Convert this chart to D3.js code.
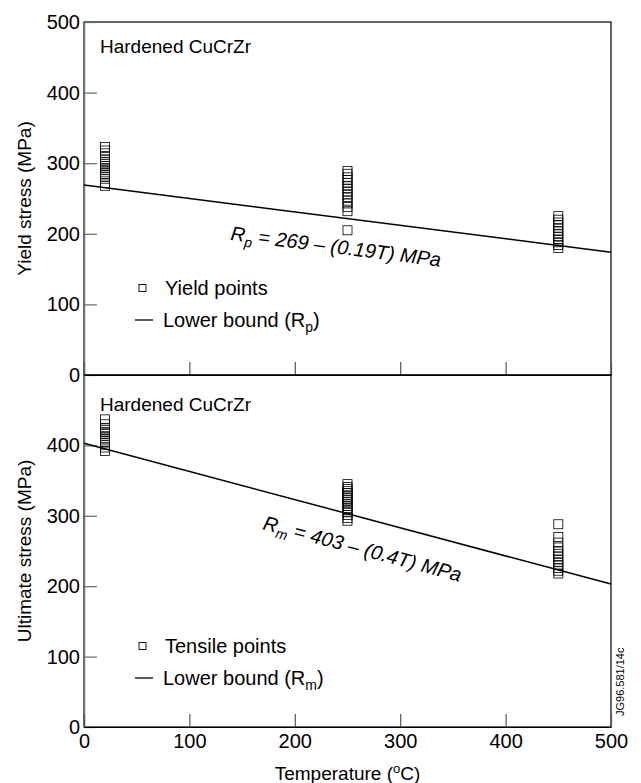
<html>
<head>
<script src="https://d3js.org/d3.v7.min.js"></script>
<style>
  body { margin: 0; background: #fff; }
  text { font-family: "Liberation Sans", Arial, sans-serif; }
</style>
</head>
<body>
<svg id="chart" width="641" height="783"></svg>
<script>
// temperatures of the three test groups
var temps = [20, 250, 450];

// yield stress points (MPa) at each temperature
var yield20 = [268, 272, 278, 281, 284, 287, 290, 293, 296, 299, 302, 305, 309, 314, 318, 323];
var yield250 = [205, 232, 238, 243, 247, 252, 256, 260, 264, 268, 272, 276, 280, 285, 289];
var yield450 = [180, 184, 188, 192, 196, 200, 204, 208, 212, 216, 220, 225];

// tensile (ultimate) stress points (MPa)
var tensile20 = [392, 397, 401, 404, 407, 410, 413, 416, 419, 422, 425, 430, 437];
var tensile250 = [293, 297, 301, 305, 308, 311, 314, 317, 320, 323, 326, 329, 332, 335, 338, 341, 345];
var tensile450 = [218, 222, 226, 230, 234, 238, 242, 246, 250, 255, 262, 270, 288];

// lower bound lines: a - b*T
var rpLine = [269, 0.19];
var rmLine = [403, 0.4];

var xTicks = [0, 100, 200, 300, 400, 500];
var yTicks = [0, 100, 200, 300, 400, 500];

var svg = d3.select("#chart");
var left = 84, right = 611;

var x = d3.scaleLinear().domain([0, 500]).range([left, right]);

var panels = [
  { top: 22, bottom: 375, title: "Yield stress (MPa)", pts: [yield20, yield250, yield450],
    line: rpLine, sub: "p", legPts: "Yield points", eq: " = 269 \u2013 (0.19T) MPa",
    eqAt: [230, 240], labels: false, legY: 288, headY: 53 },
  { top: 375, bottom: 727, title: "Ultimate stress (MPa)", pts: [tensile20, tensile250, tensile450],
    line: rmLine, sub: "m", legPts: "Tensile points", eq: " = 403 \u2013 (0.4T) MPa",
    eqAt: [262, 529], labels: true, legY: 646, headY: 411 }
];

panels.forEach(function (p) {
  var y = d3.scaleLinear().domain([0, 500]).range([p.bottom, p.top]);
  var g = svg.append("g");

  // frame
  g.append("rect")
    .attr("x", left).attr("y", p.top)
    .attr("width", right - left).attr("height", p.bottom - p.top)
    .attr("fill", "none").attr("stroke", "#000").attr("stroke-width", 1.2);

  // y axis (ticks pointing inside)
  var ya = g.append("g")
    .attr("transform", "translate(" + left + ",0)")
    .call(d3.axisLeft(y).tickValues(p.labels ? yTicks.slice(0, 5) : yTicks)
      .tickSize(-13).tickSizeOuter(0).tickPadding(4));
  ya.select(".domain").attr("stroke", "#777").attr("stroke-width", 1.5);
  ya.selectAll(".tick line").attr("stroke", "#666").attr("stroke-width", 1.2);
  ya.selectAll(".tick text").attr("font-size", 20).attr("fill", "#000")
    .style("font-family", "Liberation Sans, Arial, sans-serif");

  // x axis at the bottom of each panel
  var xa = g.append("g")
    .attr("transform", "translate(0," + p.bottom + ")")
    .call(d3.axisBottom(x).tickValues(xTicks).tickSize(-13).tickSizeOuter(0).tickPadding(7));
  xa.select(".domain").attr("stroke", "#000").attr("stroke-width", 1.2);
  xa.selectAll(".tick line").attr("stroke", "#555").attr("stroke-width", 1.2);
  xa.selectAll(".tick text").attr("font-size", 20).attr("fill", "#000")
    .style("font-family", "Liberation Sans, Arial, sans-serif")
    .style("display", p.labels ? null : "none");

  // axis title
  g.append("text")
    .attr("transform", "translate(24," + ((p.top + p.bottom) / 2) + ") rotate(-90)")
    .attr("text-anchor", "middle").attr("dy", "0.35em")
    .attr("font-size", 19)
    .text(p.title);

  // panel heading
  g.append("text")
    .attr("x", 100).attr("y", p.headY)
    .attr("font-size", 19)
    .text("Hardened CuCrZr");

  // points
  var pts = [];
  p.pts.forEach(function (arr, i) {
    arr.forEach(function (v) { pts.push({ t: temps[i], v: v }); });
  });
  g.selectAll("rect.pt").data(pts).enter().append("rect")
    .attr("class", "pt")
    .attr("x", function (d) { return x(d.t) - 4.5; })
    .attr("y", function (d) { return y(d.v) - 4.5; })
    .attr("width", 9).attr("height", 9)
    .attr("fill", "none").attr("stroke", "#000").attr("stroke-width", 0.8);

  // lower bound line
  var lb = [0, 500].map(function (t) { return [x(t), y(p.line[0] - p.line[1] * t)]; });
  g.append("path")
    .attr("d", d3.line()(lb))
    .attr("stroke", "#000").attr("stroke-width", 1.5).attr("fill", "none");

  // equation label, rotated along the line
  var ang = Math.atan2(lb[1][1] - lb[0][1], lb[1][0] - lb[0][0]) * 180 / Math.PI;
  var eq = g.append("text")
    .attr("transform", "translate(" + p.eqAt[0] + "," + p.eqAt[1] + ") rotate(" + ang + ")")
    .attr("font-size", 20).attr("font-style", "italic");
  eq.append("tspan").text("R");
  eq.append("tspan").attr("font-size", 14).attr("dy", 5).text(p.sub);
  eq.append("tspan").attr("dy", -5).text(p.eq);

  // legend
  var ly = p.legY;
  g.append("rect")
    .attr("x", 139).attr("y", ly - 3.5).attr("width", 7).attr("height", 7)
    .attr("fill", "none").attr("stroke", "#000").attr("stroke-width", 0.9);
  g.append("text").attr("x", 165).attr("y", ly + 7).attr("font-size", 20).text(p.legPts);
  g.append("line")
    .attr("x1", 135).attr("x2", 153).attr("y1", ly + 32).attr("y2", ly + 32)
    .attr("stroke", "#000").attr("stroke-width", 1.3);
  var lt = g.append("text").attr("x", 163).attr("y", ly + 39).attr("font-size", 20);
  lt.append("tspan").text("Lower bound (R");
  lt.append("tspan").attr("font-size", 14).attr("dy", 5).text(p.sub);
  lt.append("tspan").attr("dy", -5).text(")");
});

// x axis title
var xt = svg.append("text")
  .attr("x", (left + right) / 2).attr("y", 780)
  .attr("text-anchor", "middle").attr("font-size", 19);
xt.append("tspan").text("Temperature (");
xt.append("tspan").attr("font-size", 13).attr("dy", -7).text("o");
xt.append("tspan").attr("dy", 7).text("C)");

// figure reference
svg.append("text")
  .attr("transform", "translate(624,716) rotate(-90)")
  .attr("font-size", 11)
  .text("JG96.581/14c");
</script>
</body>
</html>
